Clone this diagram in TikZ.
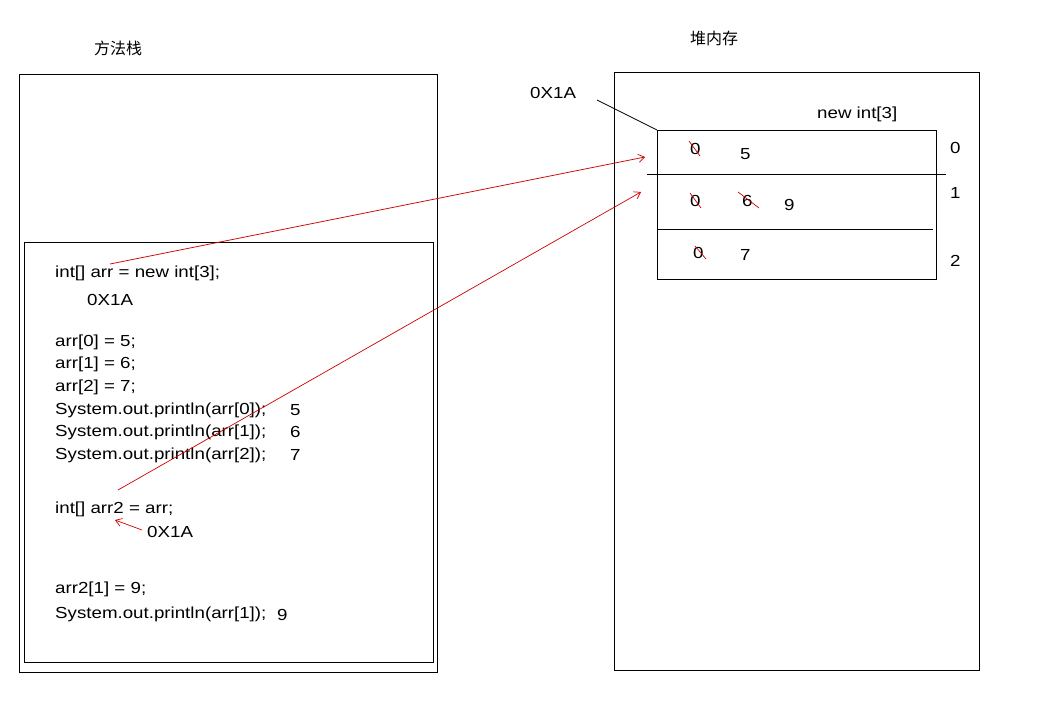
\documentclass[tikz,border=0pt]{standalone}
\usepackage{fontspec}
\setmainfont{Liberation Sans}[FakeStretch=1.17]
\newfontfamily\cjk{Noto Sans CJK SC}
\usetikzlibrary{arrows.meta}
\begin{document}
\begin{tikzpicture}[x=1pt,y=-1pt,
  t/.style={anchor=west,inner sep=0pt,font=\fontsize{16}{18}\selectfont},
  box/.style={draw=black,line width=0.8pt},
  red/.style={draw=red!80!black,line width=0.7pt,-{Straight Barb[length=6pt,width=8pt]}},
  strike/.style={draw=red!80!black,line width=0.7pt}]
\useasboundingbox (0,0) rectangle (1038,719);
\node[t,font=\cjk\fontsize{16}{18}\selectfont] (l1) at (94,48) {方法栈};
\node[t,font=\cjk\fontsize{16}{18}\selectfont] (l2) at (690,38) {堆内存};
\draw[box] (19,74) rectangle (437,672);
\draw[box] (24,242) rectangle (433,662);
\draw[box] (614,72) rectangle (979,670);
\draw[box] (657,130) rectangle (936,279);
\draw[box] (647,174) -- (946,174);
\draw[box] (657,229) -- (933,229);
\node[t] (h) at (530,93) {0X1A};
\coordinate (hs) at (597,100);
\coordinate (hc) at (657,130);
\draw[box] (hs) -- (hc);
\node[t] (ni) at (817,114) {new int[3]};
\node[t] (i0) at (950,148) {0};
\node[t] (i1) at (950,193) {1};
\node[t] (i2) at (950,261) {2};
\node[t] (a0) at (690,149) {0};
\node[t] (v5) at (740,154) {5};
\node[t] (a1) at (690,201) {0};
\node[t] (v6) at (742,201) {6};
\node[t] (v9) at (784,205) {9};
\node[t] (a2) at (693,253) {0};
\node[t] (v7) at (740,255) {7};
\draw[strike] (689,141) -- (700,156);
\draw[strike] (690,193) -- (701,208);
\draw[strike] (738,192) -- (759,208);
\draw[strike] (695,246) -- (706,259);
\node[t] (c1) at (55,273) {int[] arr = new int[3];};
\node[t] (c2) at (87,300) {0X1A};
\node[t] (c3) at (55,342) {arr[0] = 5;};
\node[t] (c4) at (55,364) {arr[1] = 6;};
\node[t] (c5) at (55,387) {arr[2] = 7;};
\node[t] (c6) at (55,410) {System.out.println(arr[0]);};
\node[t] (c7) at (55,432) {System.out.println(arr[1]);};
\node[t] (c8) at (55,455) {System.out.println(arr[2]);};
\node[t] (r5) at (290,410) {5};
\node[t] (r6) at (290,432) {6};
\node[t] (r7) at (290,455) {7};
\node[t] (c9) at (55,509) {int[] arr2 = arr;};
\node[t] (c10) at (147,532) {0X1A};
\node[t] (c11) at (55,589) {arr2[1] = 9;};
\node[t] (c12) at (55,614) {System.out.println(arr[1]);};
\node[t] (r9) at (277,615) {9};
\coordinate (s1) at (110,264);
\coordinate (e1) at (645,157);
\coordinate (s2) at (118,490);
\coordinate (e2) at (641,192);
\coordinate (s3) at (142,530);
\coordinate (e3) at (115,520);
\draw[red] (s1) -- (e1);
\draw[red] (s2) -- (e2);
\draw[red] (s3) -- (e3);
\end{tikzpicture}
\end{document}
